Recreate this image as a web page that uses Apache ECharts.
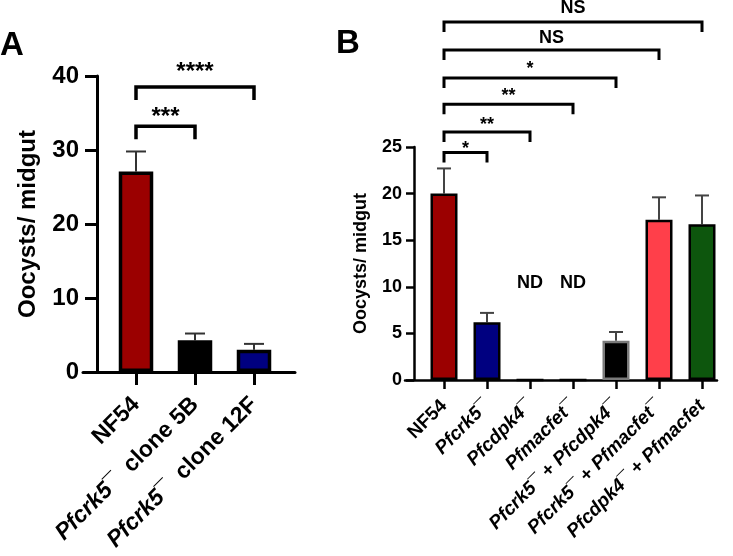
<!DOCTYPE html>
<html><head><meta charset="utf-8">
<script src="https://cdn.jsdelivr.net/npm/echarts@6/dist/echarts.min.js"></script>
<style>html,body{margin:0;padding:0;background:#fff}#c{width:733px;height:556px}</style>
</head><body><div id="c"></div>
<script>
// ---------- Panel A data ----------
const catsA = ['NF54', 'Pfcrk5¯  clone 5B', 'Pfcrk5¯  clone 12F'];
const meanA = [27.1, 4.3, 3.0];
const semA = [2.7, 0.9, 0.8];
const colorsA = ['#9b0000', '#000000', '#000080'];
const yTicksA = [0, 10, 20, 30, 40];
const bracketFromA = [0, 0];
const bracketToA = [1, 2];
const bracketYA = [33.2, 38.5];
const bracketTextYA = [35.1, 41.2];
const bracketTextA = ['***', '****'];

// ---------- Panel B data ----------
const catsB = ['NF54', 'Pfcrk5¯', 'Pfcdpk4¯', 'Pfmacfet¯', 'Pfcrk5¯ + Pfcdpk4¯', 'Pfcrk5¯ + Pfmacfet¯', 'Pfcdpk4¯ + Pfmacfet'];
const meanB = [20.0, 6.2, 0, 0, 4.2, 17.2, 16.7];
const semB = [2.7, 1.0, null, null, 0.95, 2.4, 3.1];
const colorsB = ['#9b0000', '#000080', '#000000', '#000000', '#000000', '#ff3f4a', '#0d560d'];
const bordersB = ['#000000', '#000000', '#000000', '#000000', '#7a7a7a', '#000000', '#000000'];
const yTicksB = [0, 5, 10, 15, 20, 25];
const bracketFromB = [0, 0, 0, 0, 0, 0];
const bracketToB = [1, 2, 3, 4, 5, 6];
const bracketYB = [24.4, 26.6, 29.6, 32.4, 35.4, 38.4];
const bracketTextYB = [25.2, 27.8, 30.9, 33.8, 36.7, 39.9];
const bracketTextB = ['*', '**', '**', '*', 'NS', 'NS'];
const ndCatB = [2, 3];
const ndYB = [10.4, 10.4];
const ndTextB = ['ND', 'ND'];

const FONT = 'Liberation Sans, Arial, sans-serif';

function richLabel(s) {
  return s.split(/(Pf[a-z0-9]+)/).filter(x => x).map(p => /^Pf/.test(p) ? '{i|' + p + '}' : '{n|' + p + '}').join('');
}
function richStyles(size) {
  return {
    i: { fontStyle: 'italic', fontWeight: 'bold', fontSize: size, fontFamily: FONT, color: '#000' },
    n: { fontWeight: 'bold', fontSize: size, fontFamily: FONT, color: '#000' }
  };
}
function errRender(color, lw, capHalf) {
  return function (params, api) {
    const x = api.value(0), m = api.value(1), s = api.value(2);
    const p0 = api.coord([x, m]), p1 = api.coord([x, m + s]);
    return { type: 'group', children: [
      { type: 'line', shape: { x1: p0[0], y1: p0[1], x2: p1[0], y2: p1[1] }, style: { stroke: color, lineWidth: lw } },
      { type: 'line', shape: { x1: p1[0] - capHalf, y1: p1[1], x2: p1[0] + capHalf, y2: p1[1] }, style: { stroke: color, lineWidth: lw } }
    ] };
  };
}
function bracketRender(texts, leg, lw, fontSize) {
  return function (params, api) {
    const a = api.coord([api.value(0), api.value(2)]);
    const b = api.coord([api.value(1), api.value(2)]);
    const t = api.coord([api.value(0), api.value(3)]);
    const y = a[1];
    const txt = texts[params.dataIndex];
    const off = txt.indexOf('*') >= 0 ? 0.21 * fontSize : 0;
    return { type: 'group', children: [
      { type: 'polyline', shape: { points: [[a[0], y + leg], [a[0], y], [b[0], y], [b[0], y + leg]] },
        style: { stroke: '#000', lineWidth: lw, fill: 'none', lineJoin: 'miter', lineCap: 'butt' } },
      { type: 'text', style: { text: txt, x: (a[0] + b[0]) / 2, y: t[1] + off, align: 'center', verticalAlign: 'middle',
        fontSize: fontSize, fontWeight: 'bold', fontFamily: FONT, fill: '#000' } }
    ] };
  };
}

const chart = echarts.init(document.getElementById('c'));
const option = {
  backgroundColor: '#fff',
  animation: false,
  textStyle: { fontFamily: FONT },
  graphic: [
    { type: 'text', left: 0, top: 29, style: { text: 'A', fontSize: 33, fontWeight: 'bold', fontFamily: FONT, fill: '#000' } },
    { type: 'text', left: 336, top: 27, style: { text: 'B', fontSize: 33, fontWeight: 'bold', fontFamily: FONT, fill: '#000' } }
  ],
  grid: [
    { left: 106.5, width: 177, top: 76, height: 296, outerBoundsMode: 'none' },
    { left: 83, width: 212, top: 76, height: 296, outerBoundsMode: 'none' },
    { left: 422.5, width: 301, top: 147, height: 233, outerBoundsMode: 'none' },
    { left: 405, width: 312, top: 147, height: 233, outerBoundsMode: 'none' }
  ],
  xAxis: [
    { type: 'category', gridIndex: 0, data: catsA,
      axisLine: { show: false },
      axisTick: { show: true, alignWithLabel: true, length: 13, lineStyle: { width: 3, color: '#000' } },
      axisLabel: { interval: 0, rotate: 45, margin: 29, formatter: richLabel, rich: richStyles(23) } },
    { type: 'value', gridIndex: 1, min: 0, max: 1, axisLine: { show: true, onZero: false, lineStyle: { width: 3, color: '#000' } },
      axisTick: { show: false }, axisLabel: { show: false }, splitLine: { show: false } },
    { type: 'category', gridIndex: 2, data: catsB,
      axisLine: { show: false },
      axisTick: { show: true, alignWithLabel: true, length: 9, lineStyle: { width: 2.5, color: '#000' } },
      axisLabel: { interval: 0, rotate: 45, margin: 23, formatter: richLabel, rich: richStyles(19) } },
    { type: 'value', gridIndex: 3, min: 0, max: 1, axisLine: { show: true, onZero: false, lineStyle: { width: 2.5, color: '#000' } },
      axisTick: { show: false }, axisLabel: { show: false }, splitLine: { show: false } }
  ],
  yAxis: [
    { type: 'value', gridIndex: 0, min: yTicksA[0], max: yTicksA[yTicksA.length - 1], interval: yTicksA[1] - yTicksA[0],
      offset: 9.5,
      axisLine: { show: true, lineStyle: { width: 3, color: '#000' } },
      axisTick: { show: true, length: 12, lineStyle: { width: 3, color: '#000' } },
      splitLine: { show: false },
      axisLabel: { fontSize: 24, fontWeight: 'bold', color: '#000', margin: 18, fontFamily: FONT },
      name: 'Oocysts/ midgut', nameLocation: 'middle', nameGap: 57,
      nameTextStyle: { fontSize: 24, fontWeight: 'bold', color: '#000', fontFamily: FONT } },
    { type: 'value', gridIndex: 1, min: 0, max: 1, show: false },
    { type: 'value', gridIndex: 2, min: yTicksB[0], max: yTicksB[yTicksB.length - 1], interval: yTicksB[1] - yTicksB[0],
      offset: 8.5,
      axisLine: { show: true, lineStyle: { width: 2.5, color: '#000' } },
      axisTick: { show: true, length: 8, lineStyle: { width: 2.5, color: '#000' } },
      splitLine: { show: false },
      axisLabel: { fontSize: 18, fontWeight: 'bold', color: '#000', margin: 12, fontFamily: FONT },
      name: 'Oocysts/ midgut', nameLocation: 'middle', nameGap: 44,
      nameTextStyle: { fontSize: 18, fontWeight: 'bold', color: '#000', fontFamily: FONT } },
    { type: 'value', gridIndex: 3, min: 0, max: 1, show: false }
  ],
  series: [
    { type: 'custom', xAxisIndex: 0, yAxisIndex: 0, z: 1, clip: false,
      renderItem: errRender('#333', 2, 10),
      encode: { x: 0, y: 1 },
      data: meanA.map((m, i) => [i, m, semA[i]]).filter(d => d[2] != null) },
    { type: 'bar', xAxisIndex: 0, yAxisIndex: 0, z: 2, barWidth: 34.5,
      data: meanA.map((v, i) => ({ value: v, itemStyle: { color: colorsA[i], borderColor: '#000', borderWidth: 3.5 } })) },
    { type: 'custom', xAxisIndex: 0, yAxisIndex: 0, z: 3, clip: false,
      renderItem: bracketRender(bracketTextA, 13, 3.5, 24),
      encode: { x: [0, 1], y: 2 },
      data: bracketYA.map((y, i) => [bracketFromA[i], bracketToA[i], y, bracketTextYA[i]]) },

    { type: 'custom', xAxisIndex: 2, yAxisIndex: 2, z: 1, clip: false,
      renderItem: errRender('#444', 2, 7),
      encode: { x: 0, y: 1 },
      data: meanB.map((m, i) => [i, m, semB[i]]).filter(d => d[2] != null) },
    { type: 'bar', xAxisIndex: 2, yAxisIndex: 2, z: 2, barWidth: 27,
      data: meanB.map((v, i) => ({ value: v, itemStyle: { color: colorsB[i], borderColor: bordersB[i], borderWidth: 2.5 } })) },
    { type: 'custom', xAxisIndex: 2, yAxisIndex: 2, z: 3, clip: false,
      renderItem: bracketRender(bracketTextB, 10, 3, 18),
      encode: { x: [0, 1], y: 2 },
      data: bracketYB.map((y, i) => [bracketFromB[i], bracketToB[i], y, bracketTextYB[i]]) },
    { type: 'custom', xAxisIndex: 2, yAxisIndex: 2, z: 3, clip: false,
      renderItem: function (params, api) {
        const p = api.coord([api.value(0), api.value(1)]);
        return { type: 'text', style: { text: ndTextB[params.dataIndex], x: p[0], y: p[1], align: 'center', verticalAlign: 'middle',
          fontSize: 18, fontWeight: 'bold', fontFamily: FONT, fill: '#000' } };
      },
      encode: { x: 0, y: 1 },
      data: ndCatB.map((c, i) => [c, ndYB[i]]) }
  ]
};
chart.setOption(option);
</script>
</body></html>
